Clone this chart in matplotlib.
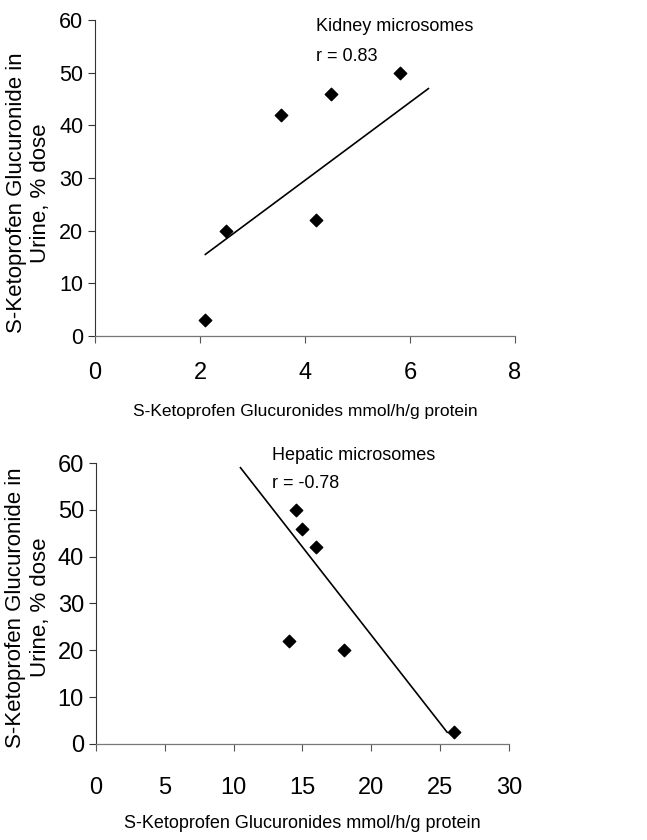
import matplotlib
matplotlib.use("Agg")
import matplotlib.pyplot as plt

plt.rcParams['font.family'] = ['Liberation Sans', 'DejaVu Sans']

kidney_x = [2.1, 2.5, 3.55, 4.2, 4.5, 5.8]
kidney_y = [3, 20, 42, 22, 46, 50]
kidney_fit_x = [2.1, 6.35]
kidney_fit_y = [15.5, 47]

hepatic_x = [14, 14.5, 15, 16, 18, 26]
hepatic_y = [22, 50, 46, 42, 20, 2.5]
hepatic_fit_x = [10.5, 25.5]
hepatic_fit_y = [59, 2.5]

xlabel = "S-Ketoprofen Glucuronides mmol/h/g protein"
ylabel = "S-Ketoprofen Glucuronide in\nUrine, % dose"

fig = plt.figure(figsize=(6.47, 8.4), dpi=100)
ax1 = fig.add_axes([0.147, 0.6, 0.649, 0.376])
ax2 = fig.add_axes([0.148, 0.1143, 0.639, 0.3345])

def style(ax, ytick_fs, xtick_fs, xpad):
    for s in ['top', 'right']:
        ax.spines[s].set_visible(False)
    ax.spines['left'].set_linewidth(0.8)
    ax.spines['left'].set_color('#333333')
    ax.spines['bottom'].set_linewidth(0.9)
    ax.spines['bottom'].set_color('#777777')
    ax.tick_params(axis='y', direction='out', length=5, width=0.8, labelsize=ytick_fs, color='#333333')
    ax.tick_params(axis='x', direction='out', length=5, width=0.8, labelsize=xtick_fs, color='#555555', pad=xpad)
    ax.set_ylim(0, 60)
    ax.set_yticks([0, 10, 20, 30, 40, 50, 60])

ax1.scatter(kidney_x, kidney_y, marker='D', s=40, color='black', zorder=3)
ax1.plot(kidney_fit_x, kidney_fit_y, color='black', lw=1.2)
ax1.set_xlim(0, 8)
ax1.set_xticks([0, 2, 4, 6, 8])
style(ax1, 15.5, 17, 14)
ax1.set_xlabel(xlabel, fontsize=12.5, labelpad=14)
ax1.set_ylabel(ylabel, fontsize=16.0)
ax1.yaxis.set_label_coords(-0.105, 0.453)
ax1.text(4.2, 60.4, "Kidney microsomes", fontsize=13, va='top', ha='left', clip_on=False)
ax1.text(4.2, 54.7, "r = 0.83", fontsize=13, va='top', ha='left')

ax2.scatter(hepatic_x, hepatic_y, marker='D', s=40, color='black', zorder=3)
ax2.plot(hepatic_fit_x, hepatic_fit_y, color='black', lw=1.2)
ax2.set_xlim(0, 30)
ax2.set_xticks([0, 5, 10, 15, 20, 25, 30])
style(ax2, 17, 17, 19)
ax2.set_xlabel(xlabel, fontsize=13, labelpad=11)
ax2.set_ylabel(ylabel, fontsize=16.0)
ax2.yaxis.set_label_coords(-0.109, 0.486)
ax2.text(12.8, 63.5, "Hepatic microsomes", fontsize=13, va='top', ha='left', clip_on=False)
ax2.text(12.8, 57.5, "r = -0.78", fontsize=13, va='top', ha='left')

fig.savefig("out.png", dpi=100, facecolor='white')
